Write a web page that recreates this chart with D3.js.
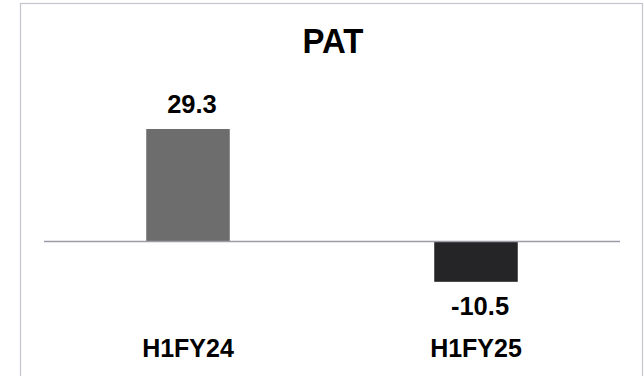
<!DOCTYPE html>
<html><head><meta charset="utf-8">
<script src="https://cdn.jsdelivr.net/npm/d3@7"></script>
<style>html,body{margin:0;padding:0;background:#fff}svg{display:block}</style>
</head><body>
<script>
const title = "PAT";
const categories = ["H1FY24", "H1FY25"];
const values = [29.3, -10.5];
const valueLabels = ["29.3", "-10.5"];
const barColors = ["#6d6d6d", "#252528"];

const W = 644, H = 376;
const svg = d3.select("body").append("svg").attr("width", W).attr("height", H);
svg.append("rect").attr("width", W).attr("height", H).attr("fill", "#fff");
svg.append("rect").attr("x", 20.5).attr("y", 3.5).attr("width", 622).attr("height", 420)
  .attr("fill", "none").attr("stroke", "#c4c4cc").attr("stroke-width", 1.2);

const x = d3.scaleBand().domain(categories).range([44, 620]).paddingInner(0.71).paddingOuter(0.355);
const y = d3.scaleLinear().domain([-15, 35]).range([241.5 + 15 * 3.84, 241.5 - 35 * 3.84]);

svg.selectAll("rect.bar").data(values).join("rect").attr("class", "bar")
  .attr("x", (d, i) => x(categories[i]))
  .attr("width", x.bandwidth())
  .attr("y", d => y(Math.max(0, d)))
  .attr("height", d => Math.abs(y(d) - y(0)))
  .attr("fill", (d, i) => barColors[i]);

svg.append("line").attr("x1", 44).attr("x2", 620).attr("y1", y(0)).attr("y2", y(0))
  .attr("stroke", "#9c9ca8").attr("stroke-width", 1.5);

const font = "'Liberation Sans', Arial, sans-serif";
svg.append("text").attr("x", 333).attr("y", 53).attr("text-anchor", "middle")
  .attr("font-family", font).attr("font-weight", "bold").attr("font-size", 35)
  .attr("textLength", 61).attr("lengthAdjust", "spacingAndGlyphs").text(title);

svg.selectAll("text.val").data(values).join("text").attr("class", "val")
  .attr("x", (d, i) => x(categories[i]) + x.bandwidth() / 2 + 4)
  .attr("y", d => d >= 0 ? y(d) - 16 : y(d) + 33)
  .attr("text-anchor", "middle").attr("font-family", font).attr("font-weight", "bold")
  .attr("font-size", 25.5).attr("fill", "#000")
  .text((d, i) => valueLabels[i]);

svg.selectAll("text.cat").data(categories).join("text").attr("class", "cat")
  .attr("x", d => x(d) + x.bandwidth() / 2)
  .attr("y", 357)
  .attr("text-anchor", "middle").attr("font-family", font).attr("font-weight", "bold")
  .attr("font-size", 25).attr("fill", "#000")
  .text(d => d);
</script>
</body></html>
